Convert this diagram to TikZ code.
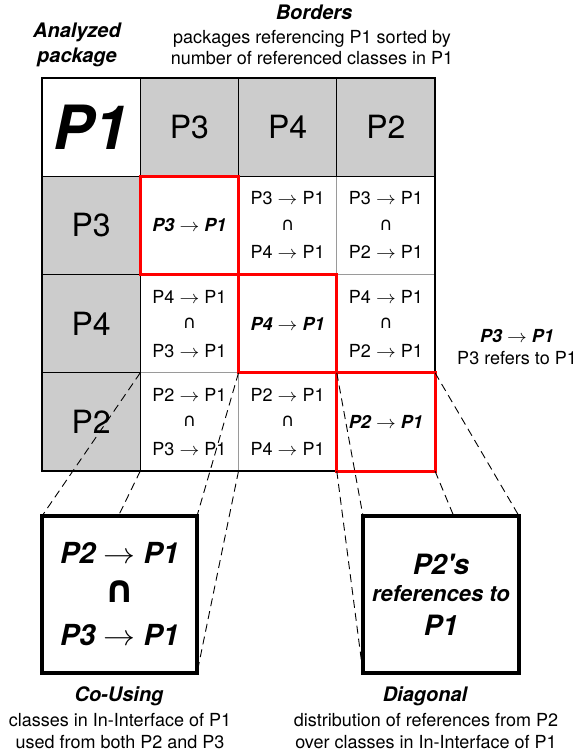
\documentclass[tikz,border=0pt]{standalone}
\usepackage{fix-cm}
\usepackage{fontspec}
\setmainfont{TeX Gyre Heros}
\newfontfamily\dsmsym{DejaVu Sans}
\usetikzlibrary{positioning}
\definecolor{dsmHead}{HTML}{CCCCCC}
\definecolor{dsmRule}{HTML}{9A9A9A}
\definecolor{dsmDiag}{HTML}{FF0000}
\pgfdeclarelayer{front}
\pgfsetlayers{main,front}
\newcommand{\dsmto}{\scalebox{1.1}[1]{$\rightarrow$}}
\newcommand{\dsmcap}{\raisebox{0.1em}{\dsmsym\mdseries\upshape ∩}}
\tikzset{
  cellbase/.style={
    minimum size=98.25pt, inner sep=0pt, outer sep=0pt, align=center
  },
  refcell/.style={cellbase, draw=dsmRule, line width=1pt, fill=white,
    font=\fontsize{18}{27}\selectfont},
  pkgcell/.style={cellbase, draw=black, line width=1.2pt, fill=dsmHead,
    font=\fontsize{32}{36}\selectfont},
  anlcell/.style={cellbase, draw=black, line width=1.2pt, fill=white,
    font=\fontsize{61}{66}\selectfont\bfseries\itshape},
  diagcell/.style={refcell, font=\fontsize{18}{27}\selectfont\bfseries\itshape},
  gridframe/.style={draw=black, line width=1.5pt},
  diagframe/.style={draw=dsmDiag, line width=3pt},
  zoombox/.style={draw=black, line width=3.5pt, fill=white, inner sep=0pt,
    outer sep=0pt, align=center, minimum height=157pt},
  zoomline/.style={draw=black, line width=0.9pt, dash pattern=on 8pt off 5pt},
  caption/.style={font=\fontsize{20}{25}\selectfont\bfseries\itshape, align=center},
  captext/.style={font=\fontsize{18}{21.5}\selectfont, align=center}
}
\begin{document}
\begin{tikzpicture}[x=1pt, y=-1pt]
  \path[use as bounding box, fill=white] (0,0) rectangle (578,755);
  % titles above the matrix
  \node[caption] (anltitle) at (77,45) {Analyzed\\package};
  \node[caption] (bordtitle) at (314,12.3) {Borders};
  \node[captext] (bordtext) at (312,47.4)
    {packages referencing P1 sorted by\\number of referenced classes in P1};
  % matrix body
  \node[diagcell] (c33) at (189.4,225.4) {P3 \dsmto{} P1};
  \node[refcell] (c34) at (287.6,225.4) {P3 \dsmto{} P1\\\dsmcap\\P4 \dsmto{} P1};
  \node[refcell] (c32) at (385.9,225.4) {P3 \dsmto{} P1\\\dsmcap\\P2 \dsmto{} P1};
  \node[refcell] (c43) at (189.4,323.6) {P4 \dsmto{} P1\\\dsmcap\\P3 \dsmto{} P1};
  \node[diagcell] (c44) at (287.6,323.6) {P4 \dsmto{} P1};
  \node[refcell] (c42) at (385.9,323.6) {P4 \dsmto{} P1\\\dsmcap\\P2 \dsmto{} P1};
  \node[refcell] (c23) at (189.4,421.9) {P2 \dsmto{} P1\\\dsmcap\\P3 \dsmto{} P1};
  \node[refcell] (c24) at (287.6,421.9) {P2 \dsmto{} P1\\\dsmcap\\P4 \dsmto{} P1};
  \node[diagcell] (c22) at (385.9,421.9) {P2 \dsmto{} P1};
  % border packages
  \node[anlcell] (p1) at (91.1,127.1) {\raisebox{-6pt}{P1}};
  \node[pkgcell] (colP3) at (189.4,127.1) {\raisebox{-4pt}{P3}};
  \node[pkgcell] (colP4) at (287.6,127.1) {\raisebox{-4pt}{P4}};
  \node[pkgcell] (colP2) at (385.9,127.1) {\raisebox{-4pt}{P2}};
  \node[pkgcell] (rowP3) at (91.1,225.4) {P3};
  \node[pkgcell] (rowP4) at (91.1,323.6) {P4};
  \node[pkgcell] (rowP2) at (91.1,421.9) {P2};
  \draw[gridframe] (p1.north west) rectangle (c22.south east);
  % diagonal
  \draw[diagframe] (c33.north west) rectangle (c33.south east);
  \draw[diagframe] (c44.north west) rectangle (c44.south east);
  \draw[diagframe] (c22.north west) rectangle (c22.south east);
  % legend
  \node[captext] (legend) at (517,347)
    {\textbf{\textit{P3 \dsmto{} P1}}\\P3 refers to P1};
  % zoomed cells
  \begin{pgfonlayer}{front}
    \node[zoombox, minimum width=155pt,
      font=\fontsize{29}{41}\selectfont\bfseries\itshape] (cobox) at (119.5,594.5)
      {P2 \dsmto{} P1\\\raisebox{0.1em}{\scalebox{1.3}{\dsmsym\bfseries\upshape ∩}}\\P3 \dsmto{} P1};
    \node[zoombox, minimum width=156pt,
      font=\fontsize{28}{27}\selectfont\bfseries\itshape] (dgbox) at (441,594.5)
      {P2{\addfontfeature{Ligatures=TeXOff}'}s\\{\fontsize{22}{27}\selectfont references to}\\[7pt]P1};
  \end{pgfonlayer}
  \draw[zoomline] (c23.north west) -- (cobox.north west);
  \draw[zoomline] (c23.south west) -- (cobox.south west);
  \draw[zoomline] (c23.north east) -- (cobox.north east);
  \draw[zoomline] (c23.south east) -- (cobox.south east);
  \draw[zoomline] (c22.north west) -- (dgbox.north west);
  \draw[zoomline] (c22.south west) -- (dgbox.south west);
  \draw[zoomline] (c22.north east) -- (dgbox.north east);
  \draw[zoomline] (c22.south east) -- (dgbox.south east);
  % captions below
  \node[caption] (cotitle) at (119,696) {Co-Using};
  \node[captext] (cotext) at (120,730.8)
    {classes in In-Interface of P1\\used from both P2 and P3};
  \node[caption] (dgtitle) at (425,696) {Diagonal};
  \node[captext] (dgtext) at (426,730.8)
    {distribution of references from P2\\over classes in In-Interface of P1};
\end{tikzpicture}
\end{document}
